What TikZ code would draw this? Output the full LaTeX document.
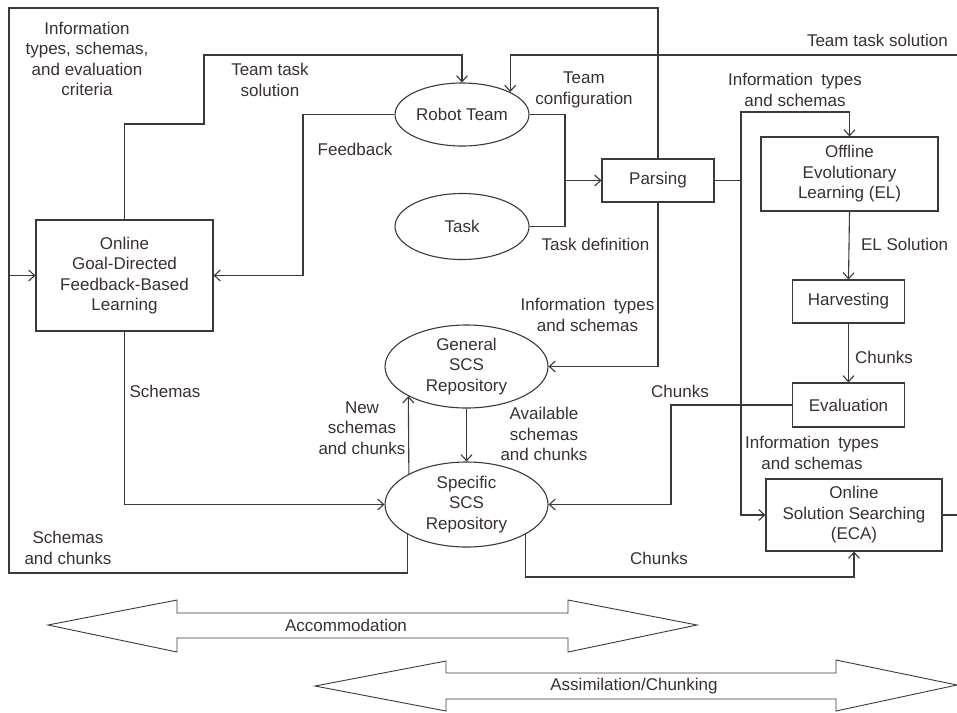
\documentclass[tikz,border=0pt]{standalone}
\usepackage{fontspec}
\setmainfont{Liberation Sans}
\usetikzlibrary{arrows.meta,shapes.geometric}
\definecolor{ink}{HTML}{3A3A3A}
\definecolor{txt}{HTML}{3A3030}

\begin{document}
\begin{tikzpicture}[x=1pt,y=-1pt,
  every node/.style={font=\fontsize{17}{20.5}\selectfont, text=txt},
  wire/.style={draw=ink, line width=1.1pt},
  arr/.style={wire, -{Straight Barb[length=6pt,width=11pt]}},
  box/.style={draw=ink, line width=1.1pt, rectangle, inner sep=0pt, align=center},
  oval/.style={draw=ink, line width=1.1pt, ellipse, inner sep=0pt},
  lbl/.style={align=center, inner sep=0pt},
  bigarrow/.style={draw=ink, line width=0.9pt, line join=miter, fill=white}
]
\useasboundingbox[fill=white] (0,0) rectangle (957,712);

% ---- processes and stores
\node[box, minimum width=177pt, minimum height=111pt] (onl) at (124.5,275.5)
  {Online\\Goal-Directed\\Feedback-Based\\Learning};
\node[oval, minimum width=134pt, minimum height=63pt] (robot) at (462,114.5) {Robot Team};
\node[oval, minimum width=134pt, minimum height=66pt] (task) at (462,226.5) {Task};
\node[box, minimum width=112pt, minimum height=43pt] (parse) at (658,180.5) {Parsing};
\node[box, minimum width=177pt, minimum height=74pt] (offel) at (849.5,174)
  {Offline\\Evolutionary\\Learning (EL)};
\node[box, minimum width=112pt, minimum height=43pt] (harv) at (848.5,301.5) {Harvesting};
\node[box, minimum width=112pt, minimum height=44pt] (eval) at (848.5,405) {Evaluation};
\node[box, minimum width=176pt, minimum height=72pt] (eca) at (854,515)
  {Online\\Solution Searching\\(ECA)};
\node[oval, minimum width=163pt, minimum height=83pt,
  label={[lbl]center:{General\\SCS\\Repository}}] (gen) at (466.5,366.5) {};
\node[oval, minimum width=163pt, minimum height=85pt,
  label={[lbl]center:{Specific\\SCS\\Repository}}] (spec) at (466.5,504.5) {};

% ---- free ends at the right border
\coordinate (eastTop) at (957,55);
\coordinate (eastBot) at (957,515);
\coordinate (join) at (565,180.5);
\coordinate (pj) at (741,180.5);

% ---- connectors
\draw[arr] (onl.north) |- (204,124) |- (462,55) -- (robot.north);
\draw[arr] (eastTop) -| (robot.25.6);
\draw[arr] (robot.west) -- (303,114.5) |- (onl.east);
\draw[wire] (robot.east) -| (join);
\draw[wire] (task.east) -| (join);
\draw[arr] (join) -- (parse.west);
\draw[arr] (parse.south) |- (gen.east);
\draw[arr] (parse.north) |- (9,8) |- (onl.west);
\draw[wire] (spec.207.5) -- (spec.207.5 |- 0,573) -- (9,573) -- (9,275.5);
\draw[arr] (spec.152.5) -- (gen.207.5);
\draw[arr] (gen.south) -- (spec.north);
\draw[arr] (onl.south) |- (spec.west);
\draw[wire] (parse.east) -- (pj);
\draw[arr] (pj) |- (849.5,112) -- (offel.north);
\draw[arr] (pj) |- (eca.west);
\draw[arr] (offel.south) -- (harv.north);
\draw[arr] (harv.south) -- (eval.north);
\draw[arr] (eval.west) -| (671,504.5) -- (spec.east);
\draw[arr] (spec.-27.5) |- (854,577) -- (eca.south);
\draw[wire] (eca.east) -- (eastBot);

% ---- connector labels
\node[lbl] (l1) at (87,59) {Information\\types, schemas,\\and evaluation\\criteria};
\node[lbl] (l2) at (270,80) {Team task\\solution};
\node[lbl] (l3) at (355,149) {Feedback};
\node[lbl] (l4) at (584,90) {Team\\configuration};
\node[lbl] (l5) at (595.5,244) {Task definition};
\node[lbl, anchor=east] (l6) at (948,40) {Team task solution};
\node[lbl] (l7) at (795,90) {Information\hspace{0.2em} types\\and schemas};
\node[lbl] (l8) at (904.5,244) {EL Solution};
\node[lbl] (l9) at (884,357) {Chunks};
\node[lbl] (l10) at (680,391) {Chunks};
\node[lbl] (l11) at (812,453) {Information\hspace{0.2em} types\\and schemas};
\node[lbl] (l12) at (659,558) {Chunks};
\node[lbl] (l13) at (587.5,315) {Information\hspace{0.2em} types\\and schemas};
\node[lbl] (l14) at (544,434) {Available\\schemas\\and chunks};
\node[lbl] (l15) at (362,428) {New\\schemas\\and chunks};
\node[lbl] (l16) at (165,391) {Schemas};
\node[lbl] (l17) at (68,548) {Schemas\\and chunks};

% ---- double-headed block arrows
\draw[bigarrow] (48,625) -- (177,600) -- (177,613) -- (568,613) -- (568,600)
  -- (697,625) -- (568,652) -- (568,638) -- (177,638) -- (177,652) -- cycle;
\node[lbl] (acc) at (346,625) {Accommodation};
\draw[bigarrow] (315,686) -- (446,661) -- (446,673) -- (836,673) -- (836,660)
  -- (957,685) -- (836,711) -- (836,699) -- (446,699) -- (446,711) -- cycle;
\node[lbl] (asm) at (634,686) {Assimilation/Chunking};
\end{tikzpicture}
\end{document}
